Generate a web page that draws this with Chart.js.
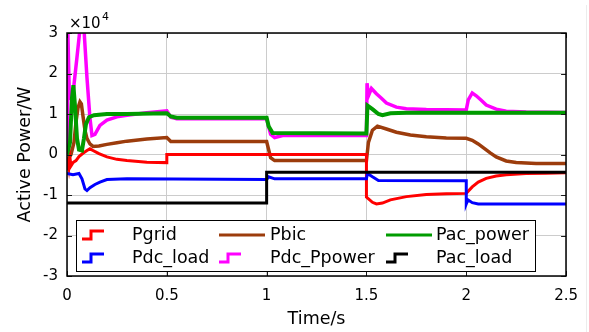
<!DOCTYPE html>
<html>
<head>
<meta charset="utf-8">
<title>Active power</title>
<script src="https://cdn.jsdelivr.net/npm/chart.js@4.4.1/dist/chart.umd.min.js"></script>
<style>
  html, body { margin: 0; padding: 0; background: #fff; overflow: hidden; }
  canvas { display: block; }
</style>
</head>
<body>
<canvas id="power" width="589" height="332"></canvas>
<script>
// values are in units of 10^4 W, time in s
const X_TICKS = [0, 0.5, 1, 1.5, 2, 2.5];
const Y_TICKS = [-3, -2, -1, 0, 1, 2, 3];

const T_PGRID = [0, 0.005, 0.01, 0.015, 0.02, 0.03, 0.045, 0.06, 0.08, 0.1, 0.115, 0.13, 0.16, 0.2, 0.25, 0.3, 0.4, 0.5, 0.5, 1.5, 1.5, 1.53, 1.55, 1.58, 1.62, 1.7, 1.8, 1.9, 2.0, 2.03, 2.06, 2.1, 2.15, 2.2, 2.3, 2.4, 2.5];
const V_PGRID = [-0.35, -0.1, -0.3, -0.08, -0.28, -0.2, -0.15, -0.05, 0.03, 0.1, 0.14, 0.1, 0.02, -0.06, -0.12, -0.15, -0.19, -0.2, 0, 0, -1.05, -1.18, -1.22, -1.2, -1.12, -1.04, -0.99, -0.97, -0.96, -0.8, -0.68, -0.59, -0.53, -0.5, -0.47, -0.46, -0.45];

const T_PBIC = [0, 0.02, 0.035, 0.045, 0.055, 0.065, 0.072, 0.08, 0.09, 0.1, 0.115, 0.13, 0.16, 0.2, 0.25, 0.3, 0.4, 0.5, 0.52, 1.0, 1.02, 1.04, 1.5, 1.51, 1.53, 1.555, 1.6, 1.65, 1.72, 1.8, 1.9, 2.0, 2.03, 2.06, 2.09, 2.12, 2.15, 2.2, 2.25, 2.35, 2.5];
const V_PBIC = [-0.15, 0.0, 0.3, 0.8, 1.15, 1.3, 1.25, 0.95, 0.6, 0.4, 0.26, 0.2, 0.21, 0.25, 0.29, 0.33, 0.38, 0.42, 0.32, 0.32, -0.08, -0.15, -0.15, 0.3, 0.6, 0.7, 0.63, 0.55, 0.48, 0.44, 0.41, 0.4, 0.35, 0.26, 0.15, 0.04, -0.06, -0.16, -0.2, -0.22, -0.22];

const T_PAC_POWER = [0, 0.015, 0.025, 0.032, 0.04, 0.05, 0.06, 0.075, 0.085, 0.095, 0.11, 0.135, 0.2, 0.3, 0.5, 0.52, 0.55, 1.0, 1.01, 1.03, 1.5, 1.505, 1.53, 1.56, 1.58, 1.62, 1.7, 2.5];
const V_PAC_POWER = [0, 0.3, 1.4, 1.71, 1.2, 0.4, 0.12, 0.1, 0.4, 0.75, 0.92, 0.97, 1.0, 1.0, 1.02, 0.94, 0.91, 0.91, 0.7, 0.53, 0.52, 1.21, 1.12, 1.0, 0.97, 1.02, 1.03, 1.03];

const T_PDC_LOAD = [0, 0.03, 0.06, 0.075, 0.09, 0.1, 0.115, 0.14, 0.165, 0.2, 0.3, 1.0, 1.01, 1.04, 1.5, 1.505, 1.53, 1.56, 2.0, 2.0, 2.008, 2.03, 2.06, 2.5];
const V_PDC_LOAD = [-0.47, -0.5, -0.47, -0.6, -0.85, -0.89, -0.82, -0.74, -0.68, -0.62, -0.6, -0.62, -0.55, -0.6, -0.6, -0.47, -0.55, -0.64, -0.65, -1.22, -1.12, -1.19, -1.22, -1.22];

const T_PDC_PPOWER = [0, 0.003, 0.012, 0.03, 0.05, 0.065, 0.075, 0.085, 0.1, 0.115, 0.125, 0.14, 0.165, 0.2, 0.25, 0.3, 0.4, 0.5, 0.52, 0.55, 1.0, 1.02, 1.04, 1.08, 1.5, 1.503, 1.51, 1.525, 1.55, 1.575, 1.6, 1.65, 1.7, 1.8, 2.0, 2.01, 2.03, 2.05, 2.075, 2.1, 2.15, 2.2, 2.3, 2.5];
const V_PDC_PPOWER = [0, 3.3, 1.4, 1.5, 2.4, 3.1, 3.35, 3.1, 1.9, 0.9, 0.47, 0.5, 0.72, 0.85, 0.93, 0.97, 1.03, 1.08, 0.92, 0.88, 0.88, 0.5, 0.42, 0.47, 0.47, 1.76, 1.45, 1.63, 1.5, 1.39, 1.27, 1.17, 1.13, 1.11, 1.1, 1.35, 1.52, 1.45, 1.34, 1.22, 1.12, 1.07, 1.05, 1.04];

const T_PAC_LOAD = [0, 1.0, 1.0, 2.5];
const V_PAC_LOAD = [-1.2, -1.2, -0.44, -0.44];

const FONT = '"DejaVu Sans", "Liberation Sans", Arial, sans-serif';

function pts(t, v) {
  return t.map((x, i) => ({ x, y: v[i] }));
}

// legend order is row by row; `order` sets which line sits on top
const SERIES = [
  { label: "Pgrid",      t: T_PGRID,      v: V_PGRID,      color: "#ff0000", width: 3,   icon: "step", order: 3 },
  { label: "Pbic",       t: T_PBIC,       v: V_PBIC,       color: "#9c3c0c", width: 3.5, icon: "line", order: 4 },
  { label: "Pac_power",  t: T_PAC_POWER,  v: V_PAC_POWER,  color: "#009c00", width: 4,   icon: "line", order: 0 },
  { label: "Pdc_load",   t: T_PDC_LOAD,   v: V_PDC_LOAD,   color: "#0000ff", width: 3,   icon: "step", order: 2 },
  { label: "Pdc_Ppower", t: T_PDC_PPOWER, v: V_PDC_PPOWER, color: "#ff00ff", width: 3.5, icon: "step", order: 5 },
  { label: "Pac_load",   t: T_PAC_LOAD,   v: V_PAC_LOAD,   color: "#000000", width: 3,   icon: "step", order: 1 },
];

const datasets = SERIES.map(s => ({
  label: s.label,
  data: pts(s.t, s.v),
  borderColor: s.color,
  backgroundColor: s.color,
  borderWidth: s.width,
  pointRadius: 0,
  tension: 0,
  fill: false,
  order: s.order,
  icon: s.icon,
}));

/* axes box, inward ticks, x10^4 note and the boxed legend */
const decor = {
  id: "decor",
  afterDatasetsDraw(chart) {
    const { ctx, chartArea: a, scales: { x, y } } = chart;
    ctx.save();

    ctx.strokeStyle = "#1a1a1a";
    ctx.lineWidth = 1;
    ctx.beginPath();
    X_TICKS.forEach(t => {
      const px = Math.round(x.getPixelForValue(t)) + 0.5;
      ctx.moveTo(px, a.bottom); ctx.lineTo(px, a.bottom - 5);
      ctx.moveTo(px, a.top); ctx.lineTo(px, a.top + 5);
    });
    Y_TICKS.forEach(t => {
      const py = Math.round(y.getPixelForValue(t)) + 0.5;
      ctx.moveTo(a.left, py); ctx.lineTo(a.left + 5, py);
      ctx.moveTo(a.right, py); ctx.lineTo(a.right - 5, py);
    });
    ctx.stroke();

    ctx.strokeStyle = "#000";
    ctx.lineWidth = 1.5;
    ctx.strokeRect(Math.round(a.left), Math.round(a.top), Math.round(a.width), Math.round(a.height));

    // exponent
    ctx.fillStyle = "#000";
    ctx.textBaseline = "alphabetic";
    ctx.textAlign = "left";
    ctx.font = "15px " + FONT;
    ctx.fillText("\u00d710", 69, 28);
    ctx.font = "11px " + FONT;
    ctx.fillText("4", 102, 20);

    // legend
    const box = { x: 76.5, y: 220.5, w: 459, h: 51 };
    ctx.fillStyle = "#fff";
    ctx.fillRect(box.x, box.y, box.w, box.h);
    ctx.strokeStyle = "#000";
    ctx.lineWidth = 1;
    ctx.strokeRect(box.x, box.y, box.w, box.h);

    const iconX = [82, 219, 386];
    const textX = [132, 270, 436];
    const rowY = [235, 258];
    ctx.font = "17.5px " + FONT;
    ctx.textBaseline = "middle";
    chart.data.datasets.forEach((d, i) => {
      const col = i % 3, row = Math.floor(i / 3);
      const x0 = iconX[col], cy = rowY[row];
      ctx.strokeStyle = d.borderColor;
      ctx.lineWidth = 3;
      ctx.lineJoin = "miter";
      ctx.beginPath();
      if (d.icon === "step") {
        ctx.moveTo(x0, cy + 4);
        ctx.lineTo(x0 + 9, cy + 4);
        ctx.lineTo(x0 + 9, cy - 4);
        ctx.lineTo(x0 + 22, cy - 4);
      } else {
        ctx.moveTo(x0, cy);
        ctx.lineTo(x0 + 46, cy);
      }
      ctx.stroke();
      ctx.fillStyle = "#000";
      ctx.fillText(d.label, textX[col], cy);
    });

    // faint frame edge at the right of the figure
    ctx.strokeStyle = "#ececec";
    ctx.lineWidth = 1;
    ctx.beginPath();
    ctx.moveTo(586.5, 5);
    ctx.lineTo(586.5, 332);
    ctx.stroke();

    ctx.restore();
  },
};

new Chart(document.getElementById("power"), {
  type: "line",
  data: { datasets },
  options: {
    responsive: false,
    devicePixelRatio: 1,
    animation: false,
    layout: { padding: { top: 33, right: 22, left: 0, bottom: 0 } },
    plugins: { legend: { display: false }, tooltip: { enabled: false } },
    scales: {
      x: {
        type: "linear",
        min: 0,
        max: 2.5,
        afterBuildTicks: s => { s.ticks = X_TICKS.map(value => ({ value })); },
        afterFit: s => { s.height = 56; },
        ticks: {
          callback: v => String(v),
          color: "#000",
          font: { family: FONT, size: 15 },
          padding: 11,
          maxRotation: 0,
        },
        grid: { color: "#cccccc", drawTicks: false },
        border: { display: false },
        title: {
          display: true,
          text: "Time/s",
          color: "#000",
          font: { family: FONT, size: 17.5 },
          padding: { top: 0, bottom: 2 },
        },
      },
      y: {
        type: "linear",
        min: -3,
        max: 3,
        afterBuildTicks: s => { s.ticks = Y_TICKS.map(value => ({ value })); },
        afterFit: s => { s.width = 67; },
        ticks: {
          callback: v => String(v),
          color: "#000",
          font: { family: FONT, size: 15 },
          padding: 9,
        },
        grid: { color: "#cccccc", drawTicks: false },
        border: { display: false },
        title: {
          display: true,
          text: "Active Power/W",
          color: "#000",
          font: { family: FONT, size: 17.5 },
          padding: { top: 15, bottom: 0 },
        },
      },
    },
  },
  plugins: [decor],
});
</script>
</body>
</html>
